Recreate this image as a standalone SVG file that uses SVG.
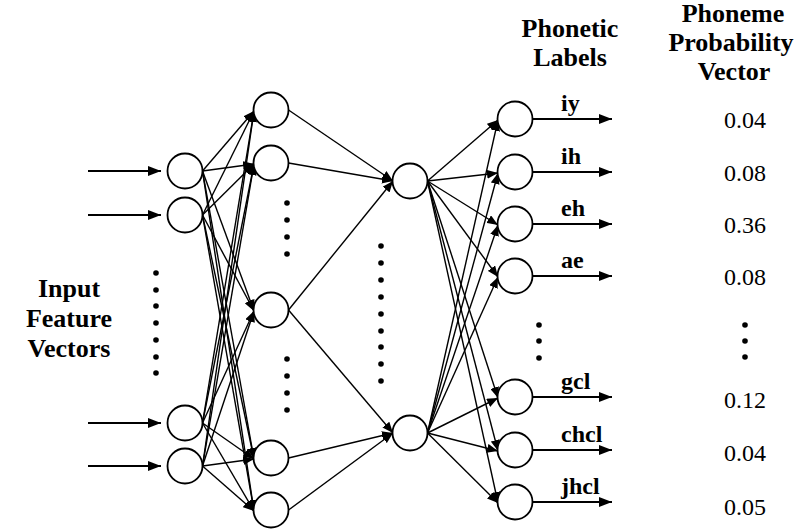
<svg xmlns="http://www.w3.org/2000/svg" width="799" height="529" viewBox="0 0 799 529">
<defs>
<marker id="ah" markerUnits="userSpaceOnUse" markerWidth="14" markerHeight="10" refX="13" refY="5" orient="auto">
<path d="M0,0 L13,5 L0,10 z" fill="#000"/>
</marker>
<marker id="as" markerUnits="userSpaceOnUse" markerWidth="12" markerHeight="9" refX="11" refY="4.5" orient="auto">
<path d="M0,0 L11,4.5 L0,9 z" fill="#000"/>
</marker>
</defs>
<style>
.n{fill:#fff;stroke:#000;stroke-width:1.8}
.c{stroke:#000;stroke-width:1.4;fill:none;marker-end:url(#as)}
.a{stroke:#000;stroke-width:1.8;fill:none;marker-end:url(#ah)}
.d{fill:#000}
.b{font-weight:bold;font-size:24px;fill:#000}
.h{font-weight:bold;font-size:26px;fill:#000;text-anchor:middle}
.v{font-size:24px;fill:#000;text-anchor:middle}
</style>
<rect width="799" height="529" fill="#fff"/>
<g id="connectors">
<line class="a" x1="88" y1="171" x2="161" y2="171"/>
<line class="a" x1="88" y1="215" x2="161" y2="215"/>
<line class="a" x1="88" y1="423" x2="161" y2="423"/>
<line class="a" x1="88" y1="466" x2="161" y2="466"/>
<line class="c" x1="202.5" y1="171" x2="254" y2="111"/>
<line class="c" x1="202.5" y1="171" x2="254" y2="164"/>
<line class="c" x1="202.5" y1="171" x2="254" y2="311"/>
<line class="c" x1="202.5" y1="171" x2="254" y2="459"/>
<line class="c" x1="202.5" y1="171" x2="254" y2="511"/>
<line class="c" x1="202.5" y1="215" x2="254" y2="111"/>
<line class="c" x1="202.5" y1="215" x2="254" y2="164"/>
<line class="c" x1="202.5" y1="215" x2="254" y2="311"/>
<line class="c" x1="202.5" y1="215" x2="254" y2="459"/>
<line class="c" x1="202.5" y1="215" x2="254" y2="511"/>
<line class="c" x1="202.5" y1="423" x2="254" y2="111"/>
<line class="c" x1="202.5" y1="423" x2="254" y2="164"/>
<line class="c" x1="202.5" y1="423" x2="254" y2="311"/>
<line class="c" x1="202.5" y1="423" x2="254" y2="459"/>
<line class="c" x1="202.5" y1="423" x2="254" y2="511"/>
<line class="c" x1="202.5" y1="466" x2="254" y2="111"/>
<line class="c" x1="202.5" y1="466" x2="254" y2="164"/>
<line class="c" x1="202.5" y1="466" x2="254" y2="311"/>
<line class="c" x1="202.5" y1="466" x2="254" y2="459"/>
<line class="c" x1="202.5" y1="466" x2="254" y2="511"/>
<line class="c" x1="288.5" y1="110" x2="393" y2="181"/>
<line class="c" x1="288.5" y1="163" x2="393" y2="181"/>
<line class="c" x1="288.5" y1="310" x2="393" y2="181"/>
<line class="c" x1="288.5" y1="310" x2="393" y2="433"/>
<line class="c" x1="288.5" y1="458" x2="393" y2="433"/>
<line class="c" x1="288.5" y1="510" x2="393" y2="433"/>
<line class="c" x1="427.5" y1="181" x2="498" y2="120"/>
<line class="c" x1="427.5" y1="181" x2="498" y2="173"/>
<line class="c" x1="427.5" y1="181" x2="498" y2="225"/>
<line class="c" x1="427.5" y1="181" x2="498" y2="277"/>
<line class="c" x1="427.5" y1="181" x2="498" y2="398"/>
<line class="c" x1="427.5" y1="181" x2="498" y2="451"/>
<line class="c" x1="427.5" y1="181" x2="498" y2="503"/>
<line class="c" x1="427.5" y1="433" x2="498" y2="120"/>
<line class="c" x1="427.5" y1="433" x2="498" y2="173"/>
<line class="c" x1="427.5" y1="433" x2="498" y2="225"/>
<line class="c" x1="427.5" y1="433" x2="498" y2="277"/>
<line class="c" x1="427.5" y1="433" x2="498" y2="398"/>
<line class="c" x1="427.5" y1="433" x2="498" y2="451"/>
<line class="c" x1="427.5" y1="433" x2="498" y2="503"/>
<line class="a" x1="532.5" y1="119" x2="612" y2="119"/>
<line class="a" x1="532.5" y1="172" x2="612" y2="172"/>
<line class="a" x1="532.5" y1="224" x2="612" y2="224"/>
<line class="a" x1="532.5" y1="276" x2="612" y2="276"/>
<line class="a" x1="532.5" y1="397" x2="612" y2="397"/>
<line class="a" x1="532.5" y1="450" x2="612" y2="450"/>
<line class="a" x1="532.5" y1="502" x2="612" y2="502"/>
</g>
<g id="input-nodes">
<g id="in1"><circle class="n" cx="185" cy="171" r="17.5"/></g>
<g id="in2"><circle class="n" cx="185" cy="215" r="17.5"/></g>
<g id="in3"><circle class="n" cx="185" cy="423" r="17.5"/></g>
<g id="in4"><circle class="n" cx="185" cy="466" r="17.5"/></g>
</g>
<g id="hidden1-nodes">
<g id="h1"><circle class="n" cx="271" cy="110" r="17.5"/></g>
<g id="h2"><circle class="n" cx="271" cy="163" r="17.5"/></g>
<g id="h3"><circle class="n" cx="271" cy="310" r="17.5"/></g>
<g id="h4"><circle class="n" cx="271" cy="458" r="17.5"/></g>
<g id="h5"><circle class="n" cx="271" cy="510" r="17.5"/></g>
</g>
<g id="hidden2-nodes">
<g id="j1"><circle class="n" cx="410" cy="181" r="17.5"/></g>
<g id="j2"><circle class="n" cx="410" cy="433" r="17.5"/></g>
</g>
<g font-family="'Liberation Serif', 'Times New Roman', serif">
<g id="output-nodes">
<g id="o1"><circle class="n" cx="515" cy="119" r="17.5"/><text class="b" x="561" y="111">iy</text></g>
<g id="o2"><circle class="n" cx="515" cy="172" r="17.5"/><text class="b" x="561" y="164">ih</text></g>
<g id="o3"><circle class="n" cx="515" cy="224" r="17.5"/><text class="b" x="561" y="216">eh</text></g>
<g id="o4"><circle class="n" cx="515" cy="276" r="17.5"/><text class="b" x="561" y="268">ae</text></g>
<g id="o5"><circle class="n" cx="515" cy="397" r="17.5"/><text class="b" x="561" y="389">gcl</text></g>
<g id="o6"><circle class="n" cx="515" cy="450" r="17.5"/><text class="b" x="561" y="442">chcl</text></g>
<g id="o7"><circle class="n" cx="515" cy="502" r="17.5"/><text class="b" x="561" y="494">jhcl</text></g>
</g>
<g id="labels">
<text class="h" x="69" y="297">Input</text>
<text class="h" x="69" y="327">Feature</text>
<text class="h" x="69" y="357">Vectors</text>
<text class="h" x="570" y="37">Phonetic</text>
<text class="h" x="570" y="66">Labels</text>
<text class="h" x="733" y="22">Phoneme</text>
<text class="h" x="731" y="51">Probability</text>
<text class="h" x="734" y="80">Vector</text>
</g>
<g id="values">
<text class="v" x="745" y="128">0.04</text>
<text class="v" x="745" y="181">0.08</text>
<text class="v" x="745" y="233">0.36</text>
<text class="v" x="745" y="285">0.08</text>
<text class="v" x="745" y="408">0.12</text>
<text class="v" x="745" y="461">0.04</text>
<text class="v" x="745" y="515">0.05</text>
</g>
</g>
<g id="ellipses">
<circle class="d" cx="156" cy="273" r="2.8"/><circle class="d" cx="156" cy="290" r="2.8"/><circle class="d" cx="156" cy="306" r="2.8"/><circle class="d" cx="156" cy="323" r="2.8"/><circle class="d" cx="156" cy="340" r="2.8"/><circle class="d" cx="156" cy="357" r="2.8"/><circle class="d" cx="156" cy="373" r="2.8"/>
<circle class="d" cx="287" cy="203" r="2.8"/><circle class="d" cx="287" cy="220" r="2.8"/><circle class="d" cx="287" cy="237" r="2.8"/><circle class="d" cx="287" cy="254" r="2.8"/>
<circle class="d" cx="287" cy="359" r="2.8"/><circle class="d" cx="287" cy="376" r="2.8"/><circle class="d" cx="287" cy="393" r="2.8"/><circle class="d" cx="287" cy="410" r="2.8"/>
<circle class="d" cx="381" cy="246" r="2.8"/><circle class="d" cx="381" cy="263" r="2.8"/><circle class="d" cx="381" cy="280" r="2.8"/><circle class="d" cx="381" cy="297" r="2.8"/><circle class="d" cx="381" cy="314" r="2.8"/><circle class="d" cx="381" cy="331" r="2.8"/><circle class="d" cx="381" cy="347" r="2.8"/><circle class="d" cx="381" cy="364" r="2.8"/><circle class="d" cx="381" cy="381" r="2.8"/>
<circle class="d" cx="539" cy="325" r="2.8"/><circle class="d" cx="539" cy="341" r="2.8"/><circle class="d" cx="539" cy="358" r="2.8"/>
<circle class="d" cx="745" cy="325" r="2.8"/><circle class="d" cx="745" cy="341" r="2.8"/><circle class="d" cx="745" cy="357" r="2.8"/>
</g>
</svg>
